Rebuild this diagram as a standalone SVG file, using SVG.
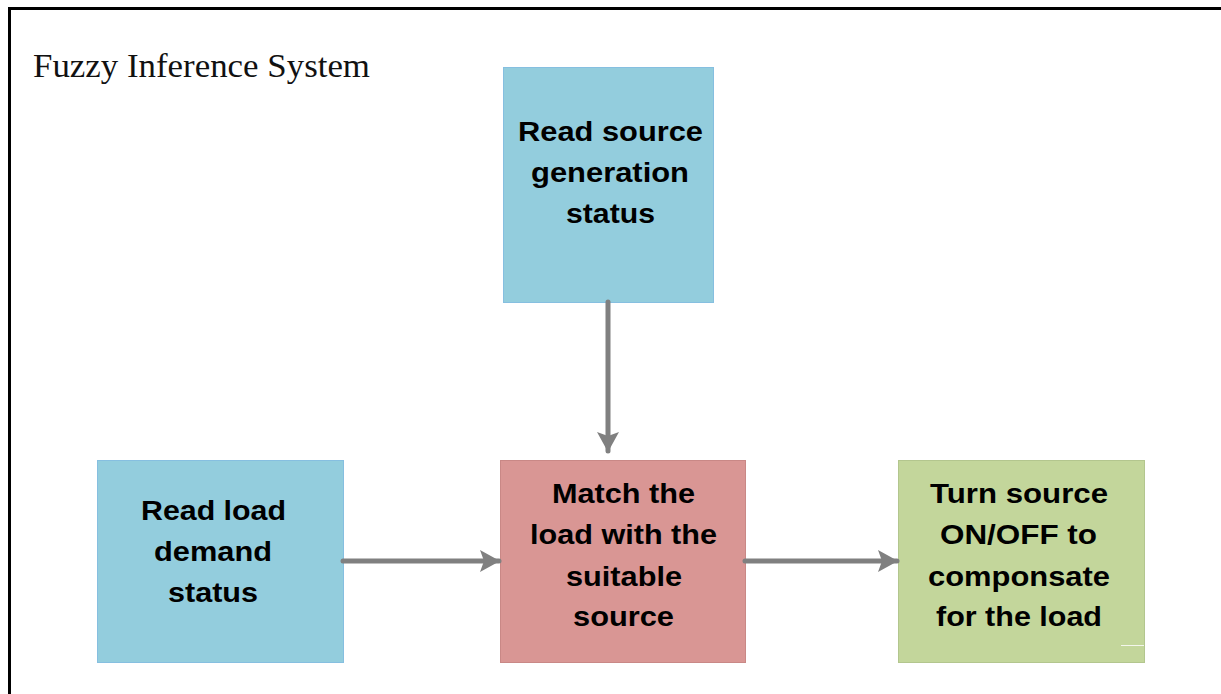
<svg xmlns="http://www.w3.org/2000/svg" width="1221" height="694" viewBox="0 0 1221 694">
  <style>
    .frame { fill: none; stroke: #000; stroke-width: 3; }
    .title { font-family: "Liberation Serif", "Times New Roman", serif; font-size: 33px; fill: #111; }
    .label { font-family: "Liberation Sans", Arial, sans-serif; font-size: 27px; font-weight: bold; fill: #000; text-anchor: middle; }
    .blue { fill: #93CDDD; stroke: #86BFE0; stroke-width: 1; }
    .red { fill: #D99694; stroke: #C98886; stroke-width: 1; }
    .green { fill: #C3D69B; stroke: #B3C68E; stroke-width: 1; }
    .conn { stroke: #808080; stroke-width: 5; stroke-linecap: round; fill: none; }
  </style>
  <defs>
    <marker id="arrow" viewBox="0 0 20 22" refX="19" refY="11" markerWidth="20" markerHeight="22" markerUnits="userSpaceOnUse" orient="auto">
      <path d="M0,0 L20,11 L0,22 L4,11 Z" fill="#808080"/>
    </marker>
  </defs>

  <rect width="1221" height="694" fill="#fff"/>
  <!-- outer frame, running off the right and bottom edges -->
  <rect class="frame" x="9.5" y="8.5" width="1240" height="720"/>
  <text class="title" x="33" y="77" textLength="337" lengthAdjust="spacingAndGlyphs">Fuzzy Inference System</text>

  <g id="read-source">
    <rect class="blue" x="503.5" y="67.5" width="210" height="235"/>
    <text class="label" x="610.5" y="140.5" textLength="185" lengthAdjust="spacingAndGlyphs">Read source</text>
    <text class="label" x="610" y="181.5" textLength="158" lengthAdjust="spacingAndGlyphs">generation</text>
    <text class="label" x="610.5" y="222.5" textLength="89" lengthAdjust="spacingAndGlyphs">status</text>
  </g>

  <g id="read-load">
    <rect class="blue" x="97.5" y="460.5" width="246" height="202"/>
    <text class="label" x="213.5" y="520" textLength="145" lengthAdjust="spacingAndGlyphs">Read load</text>
    <text class="label" x="213" y="561" textLength="118" lengthAdjust="spacingAndGlyphs">demand</text>
    <text class="label" x="213" y="602" textLength="90" lengthAdjust="spacingAndGlyphs">status</text>
  </g>

  <g id="match">
    <rect class="red" x="500.5" y="460.5" width="245" height="202"/>
    <text class="label" x="623.5" y="503" textLength="143" lengthAdjust="spacingAndGlyphs">Match the</text>
    <text class="label" x="623.5" y="544" textLength="187" lengthAdjust="spacingAndGlyphs">load with the</text>
    <text class="label" x="624" y="585.5" textLength="116" lengthAdjust="spacingAndGlyphs">suitable</text>
    <text class="label" x="623.5" y="626" textLength="101" lengthAdjust="spacingAndGlyphs">source</text>
  </g>

  <g id="switch">
    <rect class="green" x="898.5" y="460.5" width="246" height="202"/>
    <text class="label" x="1019" y="503" textLength="178" lengthAdjust="spacingAndGlyphs">Turn source</text>
    <text class="label" x="1018.5" y="544" textLength="157" lengthAdjust="spacingAndGlyphs">ON/OFF to</text>
    <text class="label" x="1019" y="585.5" textLength="182" lengthAdjust="spacingAndGlyphs">componsate</text>
    <text class="label" x="1019" y="625.5" textLength="166" lengthAdjust="spacingAndGlyphs">for the load</text>
    <line x1="1121" y1="645.5" x2="1144" y2="645.5" stroke="#fff" stroke-width="1" opacity="0.8"/>
  </g>

  <g id="connectors">
    <line class="conn" x1="608" y1="302" x2="608" y2="451" marker-end="url(#arrow)"/>
    <line class="conn" x1="343" y1="561" x2="499" y2="561" marker-end="url(#arrow)"/>
    <line class="conn" x1="745" y1="561" x2="897" y2="561" marker-end="url(#arrow)"/>
  </g>
</svg>
